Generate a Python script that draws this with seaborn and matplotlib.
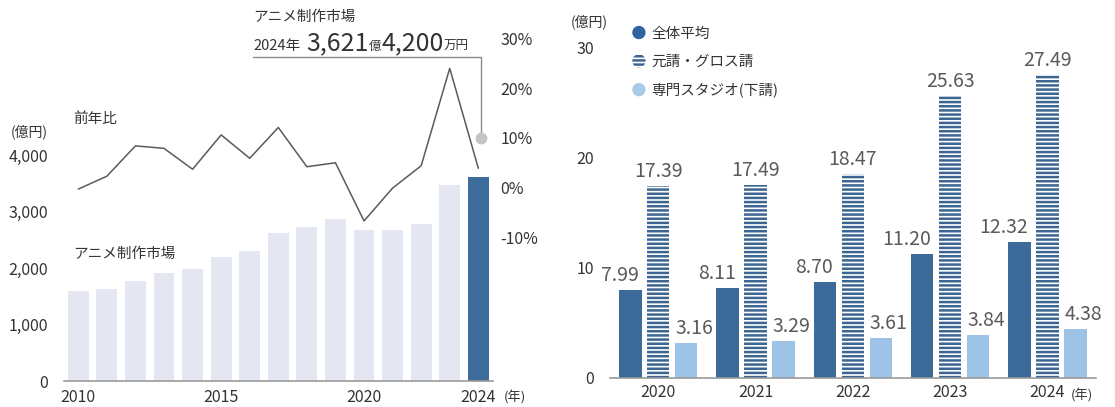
import numpy as np
import pandas as pd
import matplotlib
matplotlib.use("Agg")
import matplotlib.pyplot as plt
import seaborn as sns
from matplotlib.patches import Patch, Circle
from matplotlib.legend_handler import HandlerPatch
from matplotlib.lines import Line2D

# ---------------- data ----------------
years = [2010, 2011, 2012, 2013, 2014, 2015, 2016, 2017, 2018, 2019,
         2020, 2021, 2022, 2023, 2024]
market = [1598, 1628, 1775, 1917, 1988, 2205, 2312, 2630, 2726, 2873,
          2678, 2678, 2779, 3474, 3621]
yoy = [-0.3, 2.3, 8.4, 7.9, 3.7, 10.6, 5.9, 12.1, 4.2, 5.0,
       -6.7, -0.1, 4.4, 24.0, 3.9]
left_xticks = ["2010", "2015", "2020", "2024"]
left_yticks = [0, 1000, 2000, 3000, 4000]
pct_ticks = [-10, 0, 10, 20, 30]

years2 = ["2020", "2021", "2022", "2023", "2024"]
avg = [7.99, 8.11, 8.70, 11.20, 12.32]
prime = [17.39, 17.49, 18.47, 25.63, 27.49]
studio = [3.16, 3.29, 3.61, 3.84, 4.38]
series_names = ["全体平均", "元請・グロス請", "専門スタジオ(下請)"]
right_yticks = [0, 10, 20, 30]

callout_title = "アニメ制作市場"
callout_year = "2024年"
callout_oku = "3,621"
callout_man = "4,200"

# ---------------- style ----------------
sns.set_style("white")
plt.rcParams["font.family"] = ["Noto Sans CJK JP", "DejaVu Sans"]
plt.rcParams["hatch.linewidth"] = 1.8

TXT = "#333333"
W, H = 1115, 407
fig = plt.figure(figsize=(W / 100, H / 100), dpi=100)


def fx(px):
    return px / W


def fy(py):
    return 1 - py / H


# ---------------- left chart ----------------
ax1 = fig.add_axes([fx(64), fy(381.3), 428.6 / W, (381.3 - 25) / H])
year_str = [str(y) for y in years]
bar_colors = ["#e4e7f1"] * (len(years) - 1) + ["#3f6d9b"]
sns.barplot(x=year_str, y=market, hue=year_str, palette=bar_colors,
            saturation=1, width=0.73, legend=False, linewidth=0, ax=ax1)
ax1.set_ylim(0, 6306)
ax1.set_yticks(left_yticks)
ax1.set_yticklabels([f"{v:,}" for v in left_yticks])
ax1.set_xticks([year_str.index(t) for t in left_xticks])
ax1.set_xticklabels(left_xticks)
ax1.tick_params(axis="y", length=0, labelsize=11.5, colors=TXT, pad=11.5)
ax1.tick_params(axis="x", length=0, labelsize=11.5, colors=TXT, pad=5.5)
for s in ["top", "right", "left"]:
    ax1.spines[s].set_visible(False)
ax1.spines["bottom"].set_color("#9a9a9a")
ax1.spines["bottom"].set_linewidth(1.2)
ax1.set_xlabel("")
ax1.set_ylabel("")

ax2 = ax1.twinx()
sns.lineplot(x=np.arange(len(years)), y=yoy, ax=ax2, color="#5a5a5a",
             linewidth=1.1)
ax2.set_ylim(-38.97, 32.72)
ax2.set_yticks(pct_ticks)
ax2.set_yticklabels([f"{v}%" for v in pct_ticks])
ax2.tick_params(axis="y", length=0, labelsize=11.5, colors=TXT, pad=5.5)
for s in ax2.spines.values():
    s.set_visible(False)
ax2.set_xlabel("")
ax2.set_ylabel("")
ax1.set_xlim(-0.5, len(years) - 0.5)

fig.text(fx(48), fy(131.7), "(億円)", ha="right", va="center",
         fontsize=10, color=TXT)
fig.text(fx(73), fy(119), "前年比", ha="left", va="center",
         fontsize=10.5, color=TXT)
fig.text(fx(73), fy(254), "アニメ制作市場", ha="left", va="center",
         fontsize=10.5, color=TXT)
fig.text(fx(504), fy(398), "(年)", ha="left", va="center",
         fontsize=9.5, color=TXT)

# callout
fig.add_artist(Line2D([fx(253.3), fx(480.7), fx(480.7)],
                      [fy(57.3), fy(57.3), fy(137.7)],
                      transform=fig.transFigure, color="#8a8a8a", lw=1))
fig.add_artist(Line2D([fx(480.7)], [fy(137.7)], marker="o", markersize=7.5,
                      color="#c4c4c4", lw=0, transform=fig.transFigure))
fig.text(fx(253.3), fy(16.7), callout_title, ha="left", va="center",
         fontsize=10.5, color=TXT)

renderer = fig.canvas.get_renderer()
parts = [(callout_year, 10.5, 6), (callout_oku, 18, 0), ("億", 9, 0),
         (callout_man, 18, 0), ("万円", 9, 0)]
xcur = 253.3
for s, size, gap in parts:
    t = fig.text(fx(xcur), fy(50), s, ha="left", va="baseline",
                 fontsize=size, color=TXT)
    bb = t.get_window_extent(renderer)
    xcur = bb.x1 + gap

# ---------------- right chart ----------------
df = pd.DataFrame({
    "year": years2 * 3,
    "series": sum([[n] * len(years2) for n in series_names], []),
    "value": avg + prime + studio,
})
ax3 = fig.add_axes([fx(609.65), fy(377.5), 486.5 / W, 352.5 / H])
sns.barplot(data=df, x="year", y="value", hue="series",
            hue_order=series_names,
            palette=["#3d6b99", "#ffffff", "#9dc3e6"], saturation=1,
            width=0.863, gap=0.2, legend=False, linewidth=0, ax=ax3)
for p in ax3.containers[1]:
    p.set_hatch("----")
    p.set_edgecolor("#3d6592")
    p.set_linewidth(0)

ax3.set_xlim(-0.5, len(years2) - 0.5)
ax3.set_ylim(0, 32.05)
ax3.set_yticks(right_yticks)
ax3.tick_params(axis="y", length=0, labelsize=11.5, colors=TXT, pad=11.2)
ax3.tick_params(axis="x", length=0, labelsize=11.5, colors=TXT, pad=5)
for s in ["top", "right", "left"]:
    ax3.spines[s].set_visible(False)
ax3.spines["bottom"].set_color("#9a9a9a")
ax3.spines["bottom"].set_linewidth(1.2)
ax3.set_xlabel("")
ax3.set_ylabel("")

LBL = "#5a5a5a"
for i, cont in enumerate(ax3.containers):
    for bar in cont:
        h = bar.get_height()
        if i == 0:
            x, ha, dx = bar.get_x() + bar.get_width(), "right", -2
        elif i == 1:
            x, ha, dx = bar.get_x() + bar.get_width() / 2, "center", 0
        else:
            x, ha, dx = bar.get_x(), "left", 0
        ax3.annotate(f"{h:.2f}", xy=(x, h), xytext=(dx, 6.5),
                     textcoords="offset points", ha=ha, va="baseline",
                     fontsize=14, color=LBL)

fig.text(fx(608), fy(22), "(億円)", ha="right", va="center",
         fontsize=10, color=TXT)
fig.text(fx(1071), fy(395), "(年)", ha="left", va="center",
         fontsize=9.5, color=TXT)


class HandlerCircle(HandlerPatch):
    def create_artists(self, legend, orig_handle, xdescent, ydescent,
                       width, height, fontsize, trans):
        c = Circle((width / 2 - xdescent, height / 2 - ydescent), radius=4.8)
        self.update_prop(c, orig_handle, legend)
        c.set_transform(trans)
        return [c]


handles = [
    Patch(facecolor="#2f64a0", edgecolor="#2f64a0", linewidth=0),
    Patch(facecolor="#ffffff", edgecolor="#3d6592", hatch="----", linewidth=0),
    Patch(facecolor="#a9cbea", edgecolor="#a9cbea", linewidth=0),
]
leg = fig.legend(handles, series_names, loc="upper left",
                 bbox_to_anchor=(fx(632), fy(26)),
                 bbox_transform=fig.transFigure, frameon=False,
                 fontsize=10.5, handlelength=0.95, handleheight=1.0,
                 handletextpad=0.4, labelspacing=0.95, borderpad=0,
                 borderaxespad=0,
                 handler_map={Patch: HandlerCircle()})
for t in leg.get_texts():
    t.set_color(TXT)

fig.savefig("out.png", dpi=100)
